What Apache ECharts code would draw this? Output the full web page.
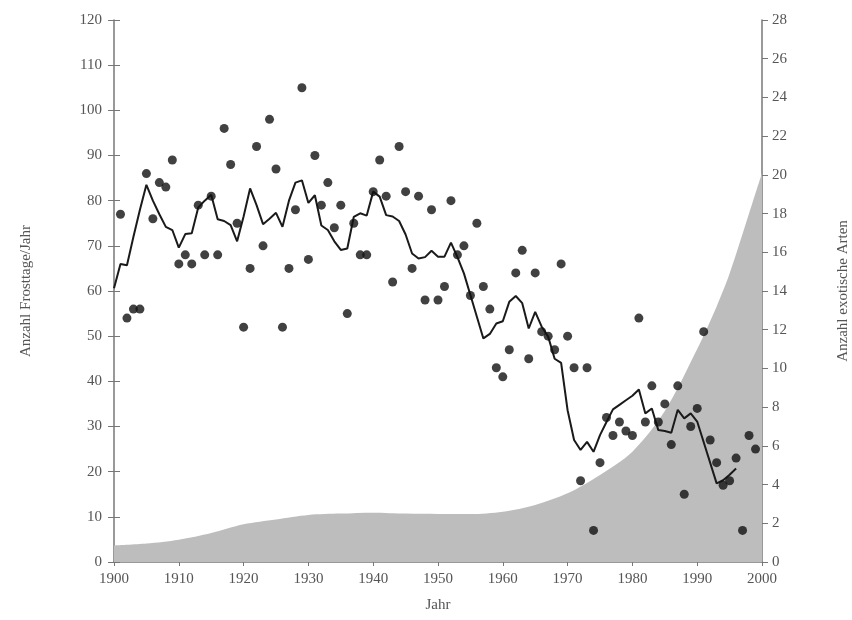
<!DOCTYPE html>
<html>
<head>
<meta charset="utf-8">
<script src="https://cdn.jsdelivr.net/npm/echarts@6/dist/echarts.min.js"></script>
<style>
  html, body { margin: 0; padding: 0; background: #fff; }
  #chart { width: 852px; height: 620px; }
</style>
</head>
<body>
<div id="chart"></div>
<script>
// Frosttage pro Jahr (Punkte)
const frostYears = [1901, 1902, 1903, 1904, 1905, 1906, 1907, 1908, 1909, 1910,
  1911, 1912, 1913, 1914, 1915, 1916, 1917, 1918, 1919, 1920,
  1921, 1922, 1923, 1924, 1925, 1926, 1927, 1928, 1929, 1930,
  1931, 1932, 1933, 1934, 1935, 1936, 1937, 1938, 1939, 1940,
  1941, 1942, 1943, 1944, 1945, 1946, 1947, 1948, 1949, 1950,
  1951, 1952, 1953, 1954, 1955, 1956, 1957, 1958, 1959, 1960,
  1961, 1962, 1963, 1964, 1965, 1966, 1967, 1968, 1969, 1970,
  1971, 1972, 1973, 1974, 1975, 1976, 1977, 1978, 1979, 1980,
  1981, 1982, 1983, 1984, 1985, 1986, 1987, 1988, 1989, 1990,
  1991, 1992, 1993, 1994, 1995, 1996, 1997, 1998, 1999]
const frostDays = [77, 54, 56, 56, 86, 76, 84, 83, 89, 66,
  68, 66, 79, 68, 81, 68, 96, 88, 75, 52,
  65, 92, 70, 98, 87, 52, 65, 78, 105, 67,
  90, 79, 84, 74, 79, 55, 75, 68, 68, 82,
  89, 81, 62, 92, 82, 65, 81, 58, 78, 58,
  61, 80, 68, 70, 59, 75, 61, 56, 43, 41,
  47, 64, 69, 45, 64, 51, 50, 47, 66, 50,
  43, 18, 43, 7, 22, 32, 28, 31, 29, 28,
  54, 31, 39, 31, 35, 26, 39, 15, 30, 34,
  51, 27, 22, 17, 18, 23, 7, 28, 25]

// gleitendes Mittel (Linie)
const meanYears = [1900, 1901, 1902, 1903, 1904, 1905, 1906, 1907, 1908, 1909,
  1910, 1911, 1912, 1913, 1914, 1915, 1916, 1917, 1918, 1919,
  1920, 1921, 1922, 1923, 1924, 1925, 1926, 1927, 1928, 1929,
  1930, 1931, 1932, 1933, 1934, 1935, 1936, 1937, 1938, 1939,
  1940, 1941, 1942, 1943, 1944, 1945, 1946, 1947, 1948, 1949,
  1950, 1951, 1952, 1953, 1954, 1955, 1956, 1957, 1958, 1959,
  1960, 1961, 1962, 1963, 1964, 1965, 1966, 1967, 1968, 1969,
  1970, 1971, 1972, 1973, 1974, 1975, 1976, 1977, 1978, 1979,
  1980, 1981, 1982, 1983, 1984, 1985, 1986, 1987, 1988, 1989,
  1990, 1993, 1994, 1995, 1996]
const meanDays = [60.6, 66, 65.7, 72, 78, 83.5, 80, 77, 74.2, 73.5,
  69.6, 72.6, 72.8, 78.5, 80, 81.3, 75.9, 75.5, 74.6, 71,
  76.5, 82.7, 79, 74.8, 76, 77.3, 74.2, 80, 84, 84.5,
  79.5, 81.2, 74.5, 73.5, 71, 69.1, 69.4, 76.4, 77.2, 76.7,
  82, 80.9, 76.8, 76.5, 75.5, 72.5, 68.3, 67.2, 67.5, 68.9,
  67.6, 67.6, 70.7, 67.5, 63.9, 59.1, 54.3, 49.5, 50.5, 52.8,
  53.3, 57.6, 58.9, 57.3, 51.7, 55.4, 52.1, 49.9, 45, 44.1,
  33.6, 27, 24.8, 26.6, 24.4, 28.1, 31, 33.8, 34.8, 35.8,
  36.8, 38.2, 32.9, 34, 29.2, 29, 28.6, 33.7, 31.8, 32.9,
  31.1, 17.4, 18.1, 19.3, 20.7]

// exotische Arten (Fläche, rechte Achse)
const speciesYears = [1900, 1905, 1910, 1915, 1920, 1925, 1930, 1935, 1940, 1945,
  1950, 1955, 1960, 1965, 1970, 1975, 1980, 1985, 1990, 1993, 1995, 1998, 2000]
const speciesCount = [0.85, 0.95, 1.15, 1.5, 1.95, 2.2, 2.43, 2.5, 2.55, 2.5,
  2.48, 2.48, 2.6, 2.95, 3.55, 4.5, 5.7, 7.8, 11.0, 13.2, 14.9, 18, 20.1]

const zip = (xs, ys) => xs.map((x, i) => [x, ys[i]])

const font = 'Liberation Serif'
const textColor = '#555'
const axisColor = '#777'

const chart = echarts.init(document.getElementById('chart'))
chart.setOption({
  animation: false,
  backgroundColor: '#fff',
  grid: { left: 114, right: 90, top: 20, bottom: 58, outerBoundsMode: 'none', containLabel: false },
  xAxis: {
    type: 'value',
    min: 1900, max: 2000, interval: 10,
    name: 'Jahr',
    nameLocation: 'middle',
    nameGap: 36,
    nameTextStyle: { fontFamily: font, fontSize: 15, color: textColor },
    axisLine: { lineStyle: { color: axisColor, width: 1.5 } },
    axisTick: { length: 4, lineStyle: { color: axisColor } },
    axisLabel: { fontFamily: font, fontSize: 15, color: textColor, margin: 10, formatter: v => String(v) },
    splitLine: { show: false }
  },
  yAxis: [
    {
      type: 'value',
      position: 'left',
      min: 0, max: 120, interval: 10,
      name: 'Anzahl Frosttage/Jahr',
      nameLocation: 'middle',
      nameRotate: 90,
      nameGap: 80,
      nameTextStyle: { fontFamily: font, fontSize: 15, color: textColor },
      axisLine: { show: true, lineStyle: { color: axisColor, width: 1.5 } },
      axisTick: { show: true, length: 6, lineStyle: { color: axisColor } },
      axisLabel: { fontFamily: font, fontSize: 15, color: textColor, margin: 12 },
      splitLine: { show: false }
    },
    {
      type: 'value',
      position: 'right',
      min: 0, max: 28, interval: 2,
      name: 'Anzahl exotische Arten',
      nameLocation: 'middle',
      nameRotate: 90,
      nameGap: 74,
      nameTextStyle: { fontFamily: font, fontSize: 15, color: textColor },
      axisLine: { show: true, lineStyle: { color: axisColor, width: 1.5 } },
      axisTick: { show: true, length: 6, lineStyle: { color: axisColor } },
      axisLabel: { fontFamily: font, fontSize: 15, color: textColor, margin: 10 },
      splitLine: { show: false }
    },
    {
      // innere Striche der linken Achse
      type: 'value',
      position: 'left',
      min: 0, max: 120, interval: 10,
      axisLine: { show: false },
      axisTick: { show: true, inside: true, length: 6, lineStyle: { color: axisColor } },
      axisLabel: { show: false },
      splitLine: { show: false }
    }
  ],
  series: [
    {
      name: 'Arten',
      type: 'line',
      yAxisIndex: 1,
      data: zip(speciesYears, speciesCount),
      smooth: 0.3,
      symbol: 'none',
      lineStyle: { width: 0 },
      areaStyle: { color: '#bdbdbd', opacity: 1 },
      z: 1
    },
    {
      name: 'Mittel',
      type: 'line',
      data: zip(meanYears, meanDays),
      symbol: 'none',
      lineStyle: { color: '#1a1a1a', width: 2 },
      z: 3
    },
    {
      name: 'Frosttage',
      type: 'scatter',
      data: zip(frostYears, frostDays),
      symbolSize: 9,
      itemStyle: { color: '#111' },
      z: 4
    }
  ]
})
</script>
</body>
</html>
